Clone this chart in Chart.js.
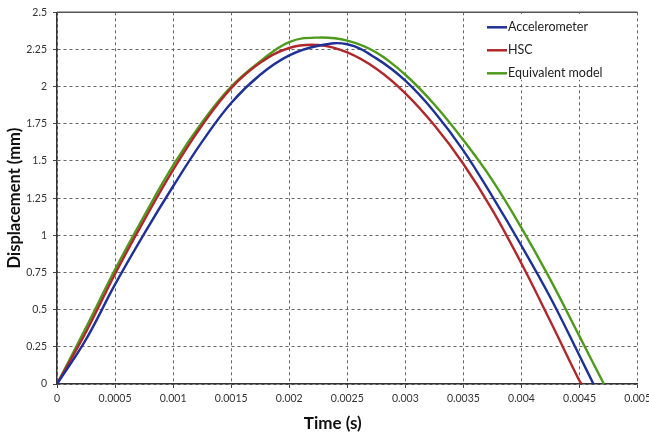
<!DOCTYPE html>
<html>
<head>
<meta charset="utf-8">
<script src="https://cdn.jsdelivr.net/npm/chart.js@4/dist/chart.umd.min.js"></script>
<style>
html,body{margin:0;padding:0;background:#fff;overflow:hidden;}
#wrap{width:655px;height:436px;position:relative;}
</style>
</head>
<body>
<div id="wrap"><canvas id="c" width="655" height="436"></canvas></div>
<script>
// ---- data ----
const seriesNames = ['Accelerometer', 'HSC', 'Equivalent model'];

const accelT = [0, 0.00025, 0.0005, 0.00075, 0.001, 0.00125, 0.0015, 0.00175, 0.002, 0.00225, 0.0025, 0.00275, 0.003, 0.00325, 0.0035, 0.00375, 0.004, 0.00425, 0.0045, 0.00462];
const accelD = [0, 0.30, 0.67, 1.01, 1.33, 1.63, 1.89, 2.08, 2.21, 2.275, 2.285, 2.19, 2.04, 1.83, 1.57, 1.26, 0.93, 0.58, 0.19, 0];

const hscT = [0, 0.00025, 0.0005, 0.00075, 0.001, 0.00125, 0.0015, 0.00175, 0.002, 0.00225, 0.0025, 0.00275, 0.003, 0.00325, 0.0035, 0.00375, 0.004, 0.00425, 0.0045, 0.00452];
const hscD = [0, 0.35, 0.74, 1.10, 1.44, 1.74, 1.99, 2.16, 2.26, 2.28, 2.23, 2.12, 1.955, 1.74, 1.48, 1.17, 0.81, 0.42, 0.02, 0];

const eqT = [0, 0.00025, 0.0005, 0.00075, 0.001, 0.00125, 0.0015, 0.00175, 0.002, 0.00225, 0.0025, 0.00275, 0.003, 0.00325, 0.0035, 0.00375, 0.004, 0.00425, 0.0045, 0.00471];
const eqD = [0, 0.38, 0.77, 1.13, 1.47, 1.76, 2.00, 2.17, 2.30, 2.33, 2.31, 2.23, 2.08, 1.88, 1.64, 1.37, 1.05, 0.70, 0.32, 0];

const xTicks = [0, 0.0005, 0.001, 0.0015, 0.002, 0.0025, 0.003, 0.0035, 0.004, 0.0045, 0.005];
const xTickLabels = ['0', '0.0005', '0.001', '0.0015', '0.002', '0.0025', '0.003', '0.0035', '0.004', '0.0045', '0.005'];
const yTicks = [0, 0.25, 0.5, 0.75, 1, 1.25, 1.5, 1.75, 2, 2.25, 2.5];
const yTickLabels = ['0', '0.25', '0.5', '0.75', '1', '1.25', '1.5', '1.75', '2', '2.25', '2.5'];
const xTitle = 'Time (s)';
const yTitle = 'Displacement (mm)';

const colors = ['#1f3196', '#b0282b', '#4e9a1c'];

function pts(t, d) { return t.map((v, i) => ({x: v, y: d[i]})); }

const FONT = 'Lato, "Liberation Sans", sans-serif';

const decorPlugin = {
  id: 'decor',
  afterDraw(chart) {
    const ctx = chart.ctx;
    const a = chart.chartArea;
    ctx.save();
    // solid top border
    ctx.strokeStyle = '#555';
    ctx.lineWidth = 1.5;
    ctx.beginPath();
    ctx.moveTo(a.left, a.top);
    ctx.lineTo(a.right, a.top);
    ctx.stroke();
    // x axis title
    ctx.fillStyle = '#111';
    ctx.font = 'bold 17px ' + FONT;
    ctx.textAlign = 'center';
    ctx.textBaseline = 'middle';
    ctx.fillText(xTitle, a.left + (a.right - a.left) * 0.475, a.bottom + 40);
    // legend box (white, no border)
    const bx = a.left + 408, by = a.top + 1.5;
    ctx.fillStyle = '#fff';
    ctx.fillRect(bx, by, a.right - bx - 1, 66);
    ctx.font = '12.5px ' + FONT;
    ctx.textAlign = 'left';
    chart.data.datasets.forEach((ds, i) => {
      const y = a.top + 15 + i * 23;
      const x0 = a.left + 430;
      ctx.strokeStyle = ds.borderColor;
      ctx.lineWidth = 2.5;
      ctx.beginPath();
      ctx.moveTo(x0, y);
      ctx.lineTo(x0 + 20, y);
      ctx.stroke();
      ctx.fillStyle = '#222';
      ctx.fillText(ds.label, x0 + 21, y);
    });
    ctx.restore();
  }
};

new Chart(document.getElementById('c'), {
  type: 'scatter',
  data: {
    datasets: [
      {label: seriesNames[0], data: pts(accelT, accelD), borderColor: colors[0]},
      {label: seriesNames[1], data: pts(hscT, hscD), borderColor: colors[1]},
      {label: seriesNames[2], data: pts(eqT, eqD), borderColor: colors[2]}
    ].map(d => Object.assign(d, {showLine: true, pointRadius: 0, borderWidth: 2.4, tension: 0.4, fill: false, backgroundColor: d.borderColor}))
  },
  options: {
    responsive: false,
    animation: false,
    layout: {padding: {top: 9, left: 0, right: 0, bottom: 0}},
    plugins: {legend: {display: false}, tooltip: {enabled: false}},
    scales: {
      x: {
        type: 'linear', min: 0, max: 0.005,
        afterBuildTicks: s => { s.ticks = xTicks.map(v => ({value: v})); },
        afterFit: s => { s.height = 52; },
        ticks: {
          autoSkip: false, maxRotation: 0, padding: 4,
          color: '#333', font: {family: FONT, size: 10.5},
          callback: (v, i) => xTickLabels[i]
        },
        grid: {color: '#666', lineWidth: 1, drawTicks: true, tickLength: 4, tickColor: '#444'},
        border: {display: true, color: '#333', width: 1.5, dash: [3, 3]},
        title: {display: false}
      },
      y: {
        type: 'linear', min: 0, max: 2.5,
        afterBuildTicks: s => { s.ticks = yTicks.map(v => ({value: v})); },
        afterFit: s => { s.width = 57; },
        ticks: {
          autoSkip: false, padding: 6,
          color: '#333', font: {family: FONT, size: 10.5},
          callback: (v, i) => yTickLabels[i]
        },
        grid: {color: '#666', lineWidth: 1, drawTicks: true, tickLength: 4, tickColor: '#444'},
        border: {display: true, color: '#333', width: 1.5, dash: [3, 3]},
        title: {display: true, text: yTitle, color: '#111', font: {family: FONT, size: 16.5, weight: 'bold'}, padding: {top: 5, bottom: 2}}
      }
    }
  },
  plugins: [decorPlugin]
});
</script>
</body>
</html>
